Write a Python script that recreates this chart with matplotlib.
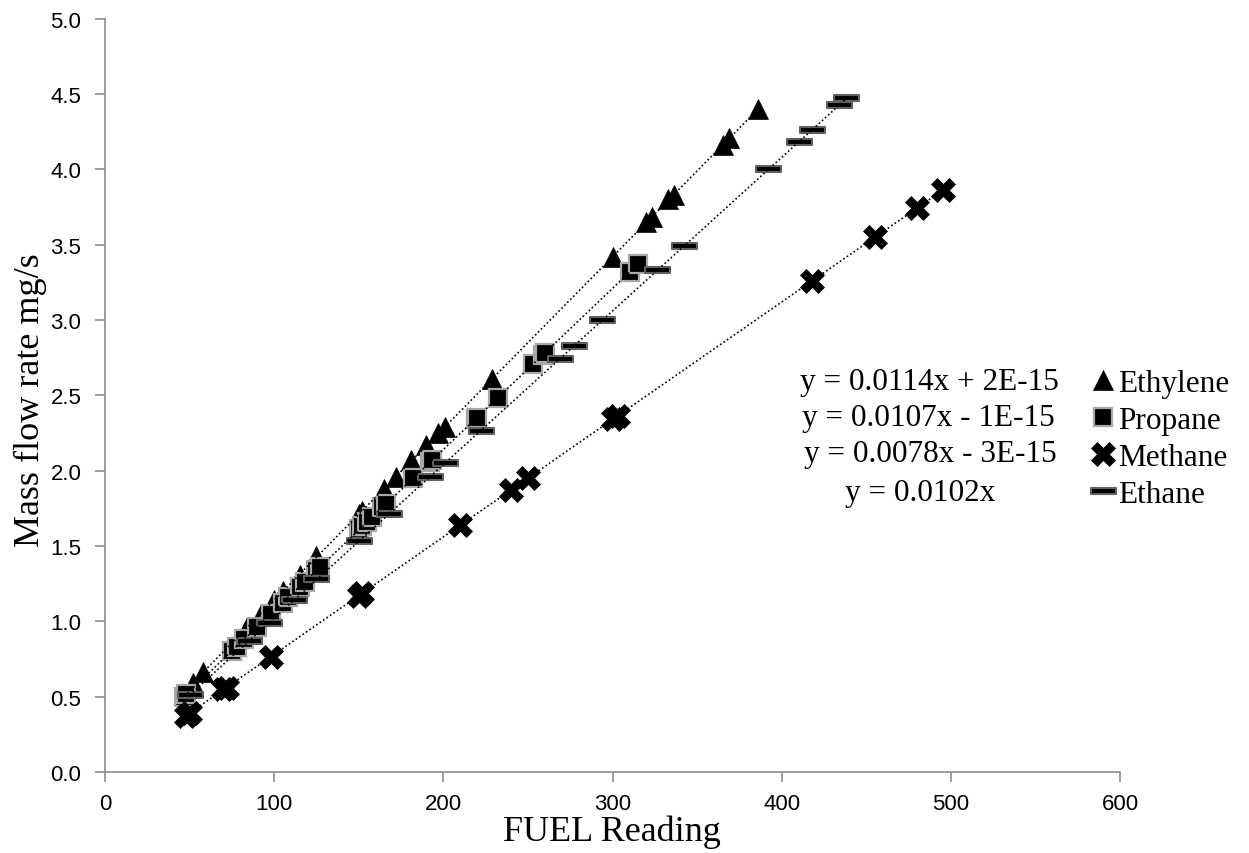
import numpy as np
import matplotlib
matplotlib.use('Agg')
from matplotlib import pyplot as plt
from matplotlib.path import Path

# Data
ethylene_x = [52, 58, 84, 92, 100, 105, 115, 125, 150, 152, 165, 172, 181, 190, 197, 201, 229,
              300, 320, 323, 333, 336, 365, 369, 386]
ethylene_y = [0.59, 0.66, 0.96, 1.05, 1.14, 1.20, 1.31, 1.43, 1.71, 1.73, 1.88, 1.96, 2.07, 2.17,
              2.25, 2.29, 2.61, 3.42, 3.65, 3.68, 3.80, 3.83, 4.16, 4.21, 4.40]

propane_x = [47, 48, 75, 78, 82, 90, 98, 105, 108, 115, 118, 125, 127, 150, 152, 155, 158, 164,
             166, 182, 192, 193, 219, 220, 232, 253, 259, 260, 310, 315]
propane_y = [0.50, 0.52, 0.80, 0.83, 0.88, 0.96, 1.05, 1.12, 1.16, 1.23, 1.26, 1.34, 1.36, 1.61,
             1.63, 1.66, 1.69, 1.76, 1.78, 1.95, 2.06, 2.07, 2.34, 2.35, 2.48, 2.71, 2.77, 2.78,
             3.32, 3.37]

methane_x = [48, 50, 70, 72, 98, 150, 152, 210, 240, 250, 300, 303, 418, 455, 480, 495]
methane_y = [0.37, 0.39, 0.55, 0.56, 0.76, 1.17, 1.19, 1.64, 1.87, 1.95, 2.34, 2.36, 3.26, 3.55,
             3.74, 3.86]

ethane_x = [50, 85, 97, 112, 125, 150, 168, 192, 201, 222, 269, 277, 294, 326, 342, 392, 410,
            418, 434, 438]
ethane_y = [0.51, 0.87, 0.99, 1.14, 1.28, 1.53, 1.71, 1.96, 2.05, 2.26, 2.74, 2.83, 3.00, 3.33,
            3.49, 4.00, 4.18, 4.26, 4.43, 4.47]

# trendline slopes as shown in the chart labels
slopes = [0.0114, 0.0107, 0.0078, 0.0102]
equations = ['y = 0.0114x + 2E-15', 'y = 0.0107x - 1E-15', 'y = 0.0078x - 3E-15', 'y = 0.0102x']
names = ['Ethylene', 'Propane', 'Methane', 'Ethane']

bar_marker = Path([(-1, -0.25), (1, -0.25), (1, 0.25), (-1, 0.25), (-1, -0.25)],
                  [Path.MOVETO, Path.LINETO, Path.LINETO, Path.LINETO, Path.CLOSEPOLY])

W, H = 1249, 854
fig = plt.figure(figsize=(W / 100, H / 100), dpi=100)
ax = fig.add_axes([0.084, 0.095, 0.813, 0.882])

series = [
    (ethylene_x, ethylene_y, dict(marker='^', ms=15, mfc='black', mec='black', mew=0.5)),
    (propane_x, propane_y, dict(marker='s', ms=13, mfc='black', mec='#a8a8a8', mew=1.6)),
    (methane_x, methane_y, dict(marker='X', ms=17, mfc='black', mec='black', mew=0.5)),
    (ethane_x, ethane_y, dict(marker=bar_marker, ms=18, mfc='black', mec='#606060', mew=1.5)),
]

handles = []
for n, (xs, ys, style) in enumerate(series):
    h, = ax.plot(xs, ys, linestyle='none', zorder=3 + n, label=names[n], **style)
    handles.append(h)
    xl = np.array([min(xs), max(xs)])
    ax.plot(xl, slopes[n] * xl, linestyle=(0, (1, 1.5)), color='black', lw=1.2, zorder=10)

ax.set_xlim(0, 600)
ax.set_ylim(0, 5)
ax.set_xticks(np.arange(0, 601, 100))
ax.set_yticks(np.arange(0, 5.01, 0.5))
ax.set_yticklabels([f'{v:.1f}' for v in np.arange(0, 5.01, 0.5)])

for side in ['top', 'right']:
    ax.spines[side].set_visible(False)
for side in ['left', 'bottom']:
    ax.spines[side].set_color('#8c8c8c')
    ax.spines[side].set_linewidth(1.2)
ax.tick_params(direction='out', length=7, width=1.2, color='#8c8c8c', labelsize=16)
ax.tick_params(axis='y', pad=10)
ax.tick_params(axis='x', pad=8)
for lbl in ax.get_xticklabels() + ax.get_yticklabels():
    lbl.set_family('Liberation Sans')

serif = 'Liberation Serif'
fig.text(612 / W, 1 - 832 / H, 'FUEL Reading', family=serif, fontsize=26,
         ha='center', va='center')
fig.text(30 / W, 1 - 400 / H, 'Mass flow rate mg/s', family=serif, fontsize=26,
         ha='center', va='center', rotation=90)

eq_pos = [(800, 383), (802, 419), (804, 455), (845, 494)]
for (px, py), eq in zip(eq_pos, equations):
    fig.text(px / W, 1 - py / H, eq, family=serif, fontsize=22.5, ha='left', va='center')

leg = ax.legend(handles=handles, loc='upper left', bbox_to_anchor=(1092 / W, 1 - 370 / H),
                bbox_transform=fig.transFigure, frameon=False, handlelength=0.7,
                handletextpad=0.15, labelspacing=0.26, borderpad=0, borderaxespad=0,
                prop=dict(family=serif, size=22.5))

fig.savefig('out.png', dpi=100)
